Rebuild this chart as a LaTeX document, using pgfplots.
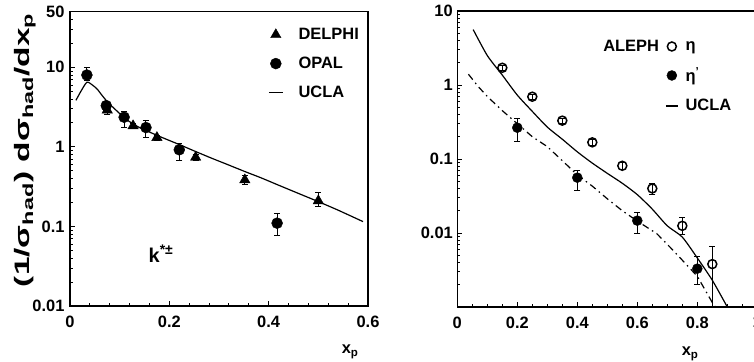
\documentclass[border=0pt]{standalone}
\usepackage{fontspec}
\setmainfont{Liberation Sans}
\usepackage{pgfplots}
\usepackage{pgfplotstable}
\pgfplotsset{compat=1.18}

% K*+- spectra
\pgfplotstableread{
x     y     ep    em
0.034 8.0   1.9   1.1
0.073 3.3   0.45  0.45
0.109 2.36  0.42  0.62
0.153 1.75  0.37  0.43
0.220 0.92  0.19  0.25
0.417 0.11  0.036 0.032
}\opal
\pgfplotstableread{
x     y     ep    em
0.075 2.9   0.35  0.35
0.127 1.84  0.12  0.12
0.175 1.31  0.10  0.10
0.253 0.74  0.06  0.06
0.352 0.385 0.05  0.05
0.500 0.21  0.06  0.03
}\delphi
\pgfplotstableread{
x     y
0.012 3.85
0.022 5.0
0.034 6.5
0.045 6.0
0.055 5.3
0.065 4.4
0.075 3.7
0.090 3.0
0.114 2.2
0.140 1.75
0.182 1.34
0.220 1.07
0.250 0.89
0.283 0.73
0.320 0.59
0.352 0.49
0.384 0.41
0.420 0.33
0.460 0.26
0.500 0.205
0.540 0.16
0.590 0.115
}\uclak
% eta and eta' spectra
\pgfplotstableread{
x    y      ep     em
0.15 1.71   0.12   0.12
0.25 0.695  0.05   0.05
0.35 0.33   0.025  0.025
0.45 0.168  0.014  0.014
0.55 0.081  0.008  0.008
0.65 0.040  0.007  0.007
0.75 0.0125 0.0035 0.003
0.85 0.0038 0.0027 0.0037
}\etadata
\pgfplotstableread{
x    y      ep     em
0.2  0.265  0.09   0.095
0.4  0.056  0.013  0.018
0.6  0.0147 0.0045 0.0047
0.8  0.0033 0.0015 0.0013
}\etapdata
\pgfplotstableread{
x     y
0.053 5.6
0.10  2.5
0.15  1.36
0.20  0.73
0.25  0.44
0.30  0.27
0.35  0.185
0.40  0.125
0.45  0.088
0.50  0.064
0.55  0.047
0.60  0.033
0.65  0.021
0.70  0.0125
0.75  0.0088
0.80  0.0046
0.85  0.0023
0.90  0.001
}\uclaeta
\pgfplotstableread{
x     y
0.037 1.4
0.07  0.95
0.10  0.70
0.15  0.45
0.20  0.30
0.25  0.20
0.30  0.147
0.35  0.095
0.40  0.061
0.45  0.043
0.50  0.029
0.55  0.020
0.60  0.0145
0.665 0.0098
0.72  0.0058
0.80  0.0026
0.85  0.00115
0.86  0.001
}\uclaetap

\newcommand{\lab}{\bfseries\fontsize{16.5}{18}\selectfont}
\pgfplotsset{
  errs/.style={
    only marks,
    error bars/y dir=both,
    error bars/y explicit,
    error bars/error mark=-,
    error bars/error bar style={line width=1bp, black},
    error bars/error mark options={rotate=90, line width=1bp, mark size=3bp, black},
  },
  % legend image: a mark at #1 in a cell #2 wide
  mkimg/.style 2 args={
    legend image code/.code={\draw[##1] plot coordinates {(#1,0bp)}; \path (0bp,0bp) (#2,0bp);},
  },
  % legend image: a stroke #1 long in a cell #2 wide
  lnimg/.style 2 args={
    legend image code/.code={\draw[##1] (0bp,0bp) -- (#1,0bp); \path (#2,0bp);},
  },
}

\begin{document}
\begin{tikzpicture}
\useasboundingbox (0bp,0bp) rectangle (754bp,-362bp);

% left: K*+-
\begin{axis}[
  scale only axis,
  ymode=log,
  axis line style={line width=1.3bp},
  tick style={line width=0.9bp, black},
  major tick length=5bp,
  minor tick length=3bp,
  tick align=inside,
  xtick pos=bottom, ytick pos=left,
  tick label style={font=\lab},
  xticklabel style={yshift=-6bp},
  yticklabel style={xshift=-2bp},
  /pgf/number format/assume math mode=true,
  label style={font=\lab},
  at={(70bp,-306bp)}, anchor=south west,
  width=298bp, height=294.3bp,
  xmin=0, xmax=0.6, ymin=0.01, ymax=50,
  xtick={0,0.2,0.4,0.6}, xticklabels={0,0.2,0.4,0.6},
  minor xtick={0.04,0.08,0.12,0.16,0.24,0.28,0.32,0.36,0.44,0.48,0.52,0.56},
  ytick={0.01,0.1,1,10,50}, yticklabels={0.01,0.1,1,10,50},
  minor ytick={0.02,0.03,0.04,0.05,0.06,0.07,0.08,0.09,0.2,0.3,0.4,0.5,0.6,0.7,0.8,0.9,2,3,4,5,6,7,8,9,20,30,40},
  xlabel={x\textsubscript{p}},
  xlabel style={at={(axis description cs:0.94,-0.156)}, anchor=center},
  ylabel={\scalebox{1.6}[1]{\fontsize{21}{23}\selectfont(1/σ\textsubscript{had}) dσ\textsubscript{had}/dx\textsubscript{p}}},
  ylabel style={at={(axis description cs:-0.151,0.53)}, anchor=center},
  legend style={draw=none, fill=none, font=\lab, inner sep=0pt,
    cells={anchor=west}, row sep=12bp,
    at={(axis description cs:0.664,0.951)}, anchor=north west},
  legend cell align=left,
]
\addlegendimage{only marks, mark=triangle*, mark size=6bp, black, mkimg={7bp}{27bp}}
\addlegendentry{DELPHI}
\addlegendimage{only marks, mark=*, mark size=5.5bp, black, mkimg={7bp}{27bp}}
\addlegendentry{OPAL}
\addlegendimage{black, line width=1.5bp, lnimg={14bp}{27bp}}
\addlegendentry{UCLA}

\addplot[black, line width=1.2bp, smooth, tension=0.4, forget plot] table[x=x, y=y] {\uclak};
\addplot[errs, mark=triangle*, mark size=6bp, black, forget plot]
  table[x=x, y=y, y error plus=ep, y error minus=em] {\delphi};
\addplot[errs, mark=*, mark size=5.5bp, black, forget plot]
  table[x=x, y=y, y error plus=ep, y error minus=em] {\opal};
\node[anchor=base west, font=\bfseries\fontsize{20}{22}\selectfont, inner sep=0pt]
  at (axis cs:0.158,0.0357) {k\textsuperscript{*±}};
\end{axis}

% right: eta and eta'
\begin{axis}[
  scale only axis,
  ymode=log,
  axis line style={line width=1.3bp},
  tick style={line width=0.9bp, black},
  major tick length=5bp,
  minor tick length=3bp,
  tick align=inside,
  xtick pos=bottom, ytick pos=left,
  tick label style={font=\lab},
  xticklabel style={yshift=-6bp},
  yticklabel style={xshift=-1bp},
  /pgf/number format/assume math mode=true,
  label style={font=\lab},
  at={(457.3bp,-307bp)}, anchor=south west,
  width=300bp, height=296bp,
  xmin=0, xmax=1, ymin=0.001, ymax=10,
  xtick={0,0.2,0.4,0.6,0.8,1}, xticklabels={0,0.2,0.4,0.6,0.8,1},
  minor xtick={0.05,0.1,0.15,0.25,0.3,0.35,0.45,0.5,0.55,0.65,0.7,0.75,0.85,0.9,0.95},
  ytick={0.001,0.01,0.1,1,10}, yticklabels={,0.01,0.1,1,10},
  minor ytick={0.002,0.003,0.004,0.005,0.006,0.007,0.008,0.009,0.02,0.03,0.04,0.05,0.06,0.07,0.08,0.09,0.2,0.3,0.4,0.5,0.6,0.7,0.8,0.9,2,3,4,5,6,7,8,9},
  xlabel={x\textsubscript{p}},
  xlabel style={at={(axis description cs:0.776,-0.159)}, anchor=center},
  legend style={draw=none, fill=none, font=\lab, inner sep=0pt,
    cells={anchor=west}, row sep=12bp,
    at={(axis description cs:0.692,0.905)}, anchor=north west},
  legend cell align=left,
]
\addlegendimage{only marks, mark=o, mark size=4.5bp, line width=1.5bp, black, mkimg={6bp}{17bp}}
\addlegendentry{η}
\addlegendimage{only marks, mark=*, mark size=5bp, black, mkimg={6bp}{17bp}}
\addlegendentry{η\textsuperscript{'}}
\addlegendimage{black, line width=1.5bp, lnimg={12bp}{17bp}}
\addlegendentry{UCLA}

\addplot[black, line width=1.2bp, smooth, tension=0.4, forget plot] table[x=x, y=y] {\uclaeta};
\addplot[black, line width=1.2bp, dash pattern=on 7bp off 4bp on 1.5bp off 4bp, forget plot] table[x=x, y=y] {\uclaetap};
\addplot[errs, mark=o, mark size=4.5bp, black, mark options={line width=1.5bp}, forget plot]
  table[x=x, y=y, y error plus=ep, y error minus=em] {\etadata};
\addplot[errs, mark=*, mark size=5bp, black, forget plot]
  table[x=x, y=y, y error plus=ep, y error minus=em] {\etapdata};
\node[anchor=west, font=\lab, inner sep=0pt] at (axis description cs:0.486,0.882) {ALEPH};
\end{axis}
\end{tikzpicture}
\end{document}
